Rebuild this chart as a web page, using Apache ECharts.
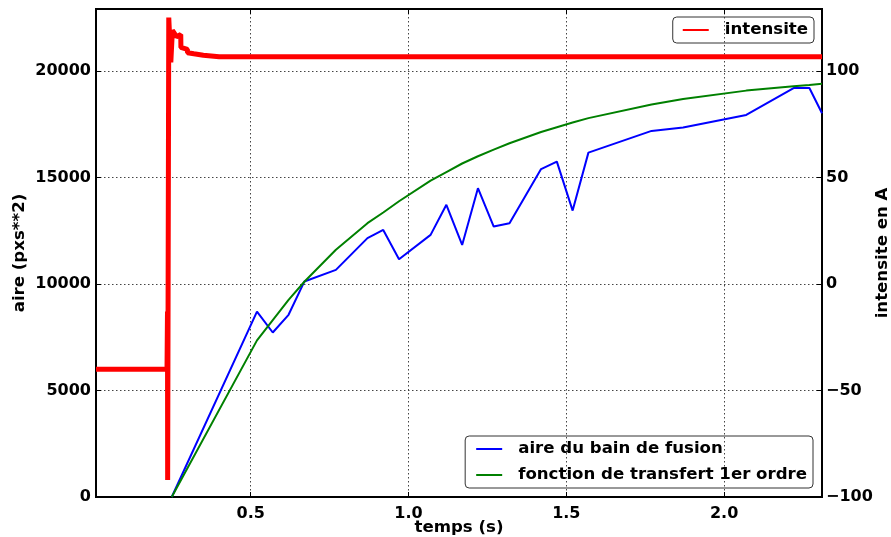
<!DOCTYPE html>
<html>
<head>
    <meta charset="utf-8">
    <title>aire du bain de fusion</title>
    <script src="https://cdn.jsdelivr.net/npm/echarts@6/dist/echarts.min.js"></script>
</head>
<body style="margin:0">
    <div id="chart" style="width: 891px;height:537px;"></div>
    <script type="text/javascript">
// temps (s) des mesures d'aire
var tAire = [0.25, 0.52, 0.57, 0.62, 0.67, 0.77, 0.87, 0.92, 0.97, 1.07, 1.12, 1.17, 1.22,
             1.27, 1.32, 1.42, 1.47, 1.52, 1.57, 1.77, 1.87, 2.07, 2.22, 2.27, 2.31];
var aire = [0, 8700, 7720, 8550, 10110, 10660, 12150, 12530, 11160, 12300, 13710, 11830, 14490,
            12690, 12850, 15390, 15740, 13440, 16160, 17180, 17340, 17930, 19190, 19190, 18010];
var transfert = [0, 7350, 8300, 9250, 10100, 11600, 12850, 13350, 13880, 14850, 15250, 15650, 15990,
                 16300, 16600, 17130, 17350, 17570, 17780, 18420, 18680, 19070, 19270, 19330, 19390];

// intensite (A)
var tInt = [0.01, 0.235, 0.2365, 0.237, 0.2405, 0.247, 0.252, 0.265, 0.2785, 0.279, 0.2995,
            0.30, 0.32, 0.35, 0.40, 2.31];
var intensite = [-40, -40, -13, -92, 125, 104, 119, 116, 117, 111, 110,
                 108.5, 108, 107.3, 106.6, 106.6];

function pairs(xs, ys) {
    var out = [];
    for (var i = 0; i < xs.length; i++) out.push([xs[i], ys[i]]);
    return out;
}
function onStep(v, step) {
    return Math.abs(v / step - Math.round(v / step)) < 1e-6;
}

var font = 'DejaVu Sans';
var fs = 16;      // ticks
var fsT = 16.6;   // legendes et titres d'axes
var grille = {show: true, lineStyle: {color: '#444', type: [1.5, 2.5], width: 1}};
var chart = echarts.init(document.getElementById('chart'));

var option = {
    animation: false,
    textStyle: {fontFamily: font, fontWeight: 'bold', color: '#000'},
    grid: {left: 96, right: 69, top: 9, bottom: 40, show: true, borderColor: '#000', borderWidth: 2,
           outerBoundsMode: 'none', containLabel: false},
    legend: [
        {
            data: ['intensite'],
            right: 77, top: 17,
            padding: [4, 6, 4, 10],
            borderColor: '#333', borderWidth: 1, borderRadius: 4,
            icon: 'rect', itemWidth: 26, itemHeight: 2,
            textStyle: {fontFamily: font, fontWeight: 'bold', fontSize: fsT, color: '#000', padding: [0, 0, 0, 11], lineHeight: 18}
        },
        {
            data: ['aire du bain de fusion', 'fonction de transfert 1er ordre'],
            orient: 'vertical',
            right: 78, bottom: 49,
            padding: [4, 6, 4, 11],
            itemGap: 8,
            borderColor: '#333', borderWidth: 1, borderRadius: 4,
            icon: 'rect', itemWidth: 26, itemHeight: 2,
            textStyle: {fontFamily: font, fontWeight: 'bold', fontSize: fsT, color: '#000', padding: [0, 0, 0, 11], lineHeight: 18}
        }
    ],
    xAxis: [
        {
            type: 'value', min: 0.01, max: 2.31, splitNumber: 5,
            name: 'temps (s)', nameLocation: 'middle', nameGap: 22, nameMoveOverlap: false,
            nameTextStyle: {fontFamily: font, fontWeight: 'bold', fontSize: fsT, color: '#000'},
            axisLine: {onZero: false, lineStyle: {color: '#000', width: 2}},
            axisTick: {inside: true, length: 5, lineStyle: {color: '#000'}},
            axisLabel: {
                margin: 9, fontFamily: font, fontWeight: 'bold', fontSize: fs, color: '#000',
                formatter: function (v) { return onStep(v, 0.5) ? v.toFixed(1) : ''; }
            },
            splitLine: grille
        },
        {
            type: 'value', min: 0.01, max: 2.31, splitNumber: 5, position: 'top',
            axisLine: {onZero: false, lineStyle: {color: '#000', width: 2}},
            axisTick: {inside: true, length: 5, lineStyle: {color: '#000'}},
            axisLabel: {show: false},
            splitLine: {show: false}
        }
    ],
    yAxis: [
        {
            type: 'value', min: 0, max: 22900, interval: 5000,
            name: 'aire (pxs**2)', nameLocation: 'middle', nameGap: 68, nameRotate: 90, nameMoveOverlap: false,
            nameTextStyle: {fontFamily: font, fontWeight: 'bold', fontSize: fsT, color: '#000'},
            axisLine: {show: true, onZero: false, lineStyle: {color: '#000', width: 2}},
            axisTick: {show: true, inside: true, length: 5, lineStyle: {color: '#000'}},
            axisLabel: {
                margin: 5, fontFamily: font, fontWeight: 'bold', fontSize: fs, color: '#000',
                formatter: function (v) { return onStep(v, 5000) ? String(v) : ''; }
            },
            splitLine: grille
        },
        {
            type: 'value', min: -100, max: 129, interval: 50, position: 'right',
            name: 'intensite en A', nameLocation: 'middle', nameGap: 52, nameRotate: 90, nameMoveOverlap: false,
            nameTextStyle: {fontFamily: font, fontWeight: 'bold', fontSize: fsT, color: '#000'},
            axisLine: {show: true, onZero: false, lineStyle: {color: '#000', width: 2}},
            axisTick: {show: true, inside: true, length: 5, lineStyle: {color: '#000'}},
            axisLabel: {
                margin: 4, fontFamily: font, fontWeight: 'bold', fontSize: fs, color: '#000',
                formatter: function (v) {
                    if (!onStep(v, 50)) return '';
                    return v < 0 ? '\u2212' + (-v) : String(v);
                }
            },
            splitLine: {show: false}
        }
    ],
    series: [
        {
            type: 'line', name: 'intensite', yAxisIndex: 1, symbol: 'none',
            color: '#ff0000', lineStyle: {width: 5, color: '#ff0000'},
            data: pairs(tInt, intensite)
        },
        {
            type: 'line', name: 'aire du bain de fusion', yAxisIndex: 0, symbol: 'none',
            color: '#0000ff', lineStyle: {width: 2, color: '#0000ff'},
            data: pairs(tAire, aire)
        },
        {
            type: 'line', name: 'fonction de transfert 1er ordre', yAxisIndex: 0, symbol: 'none',
            color: '#008000', lineStyle: {width: 2, color: '#008000'},
            data: pairs(tAire, transfert)
        }
    ]
};
chart.setOption(option);
    </script>
</body>
</html>
